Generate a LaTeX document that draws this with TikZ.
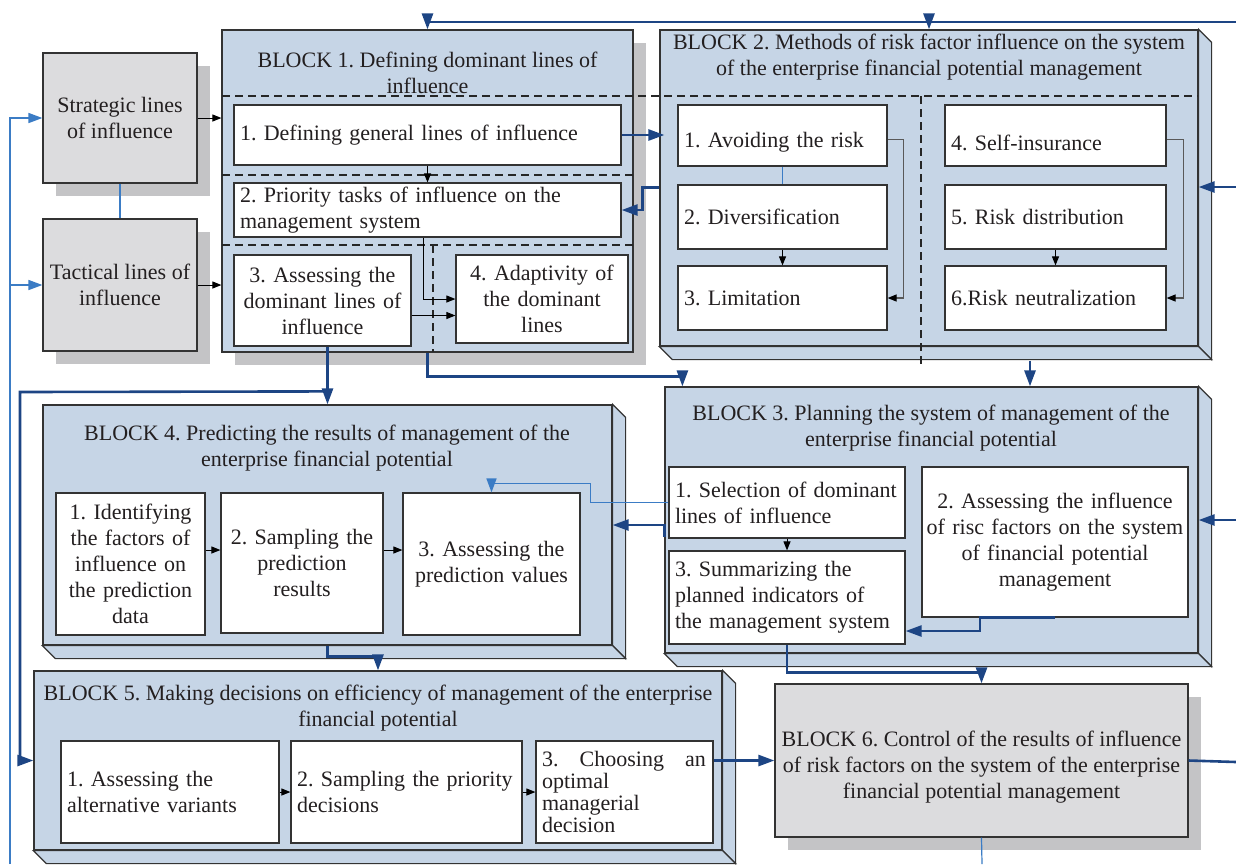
\documentclass[tikz,border=0pt]{standalone}
\usepackage{fontspec}
\setmainfont{Liberation Serif}
\usetikzlibrary{arrows.meta,calc,shadows}

\definecolor{blkblue}{HTML}{C6D5E6}
\definecolor{boxgray}{HTML}{DCDCDE}
\definecolor{shadowgray}{HTML}{C4C4C6}
\definecolor{navy}{HTML}{1D4584}
\definecolor{lightblue}{HTML}{3B7CC5}
\definecolor{boxline}{HTML}{333333}
\definecolor{txt}{HTML}{231F20}

\hyphenpenalty=10000
\exhyphenpenalty=10000
\newcommand{\blockfont}{\fontsize{11}{13}\selectfont\frenchspacing}
\newcommand{\lowtext}[1]{\raisebox{-3.5pt}[\height][\depth]{#1}}

\tikzset{
	blk/.style={draw=boxline, fill=blkblue, line width=0.6pt, inner sep=0pt},
	face/.style={draw=boxline, fill=blkblue, line width=0.6pt},
	graybox/.style={draw=boxline, fill=boxgray, line width=0.6pt, inner xsep=3pt, font=\blockfont, text=txt, align=center,
		drop shadow={shadow xshift=6.5pt, shadow yshift=-6.5pt, fill=shadowgray, opacity=1}},
	inbox/.style={draw=boxline, fill=white, line width=0.6pt, inner xsep=3pt, inner ysep=0pt, font=\blockfont, text=txt},
	ttl/.style={font=\blockfont, align=center, text=txt, inner sep=0pt},
	sepline/.style={draw=black!85, line width=0.8pt, dash pattern=on 4pt off 2.5pt},
	darrow/.style={draw=navy, line width=1.3pt, -{Triangle[length=8pt,width=5.5pt]}},
	dline/.style={draw=navy, line width=1.3pt},
	larrow/.style={draw=lightblue, line width=0.8pt, -{Triangle[length=7pt,width=5pt]}},
	lline/.style={draw=lightblue, line width=0.6pt},
	barrow/.style={draw=black, line width=0.5pt, -{Triangle[length=4.5pt,width=3.5pt]}},
	garrow/.style={draw=black!65, line width=0.6pt, -{Triangle[length=4.5pt,width=3.5pt,black]}}
}

\begin{document}
\begin{tikzpicture}[x=0.5pt, y=-0.5pt]
	\useasboundingbox (0,0) rectangle (1236,864);

	%blocks
	\node[blk, minimum width=205.5pt, minimum height=161pt,
		drop shadow={shadow xshift=6.5pt, shadow yshift=-6.5pt, fill=shadowgray, opacity=1}] (blk1) at (427.5,191) {};
	\node[blk, minimum width=269pt, minimum height=158pt] (blk2) at (929,188) {};
	\node[blk, minimum width=266.5pt, minimum height=133pt] (blk3) at (931.5,520) {};
	\node[blk, minimum width=284.5pt, minimum height=120pt] (blk4) at (327.5,525) {};
	\node[blk, minimum width=344pt, minimum height=89.5pt] (blk5) at (378,760.5) {};
	\foreach \b in {blk2,blk3,blk4,blk5} {
		\filldraw[face] (\b.north east) -- ++(13,13) -- ($(\b.south east)+(13,13)$) -- (\b.south east) -- cycle;
		\filldraw[face] (\b.south west) -- ++(13,13) -- ($(\b.south east)+(13,13)$) -- (\b.south east) -- cycle;
	}
	\node[graybox, minimum width=206.5pt, minimum height=76.5pt] (blk6) at (981.5,760.5)
		{\lowtext{\begin{tabular}{@{}c@{}}BLOCK 6. Control of the results of influence\\of risk factors on the system of the enterprise\\financial potential management\end{tabular}}};

	%titles
	\node[ttl] (t1) at (427.5,73) {BLOCK 1. Defining dominant lines of\\influence};
	\node[ttl] (t2) at (929,57) {BLOCK 2. Methods of risk factor influence on the system\\of the enterprise financial potential management};
	\node[ttl] (t3) at (931,428) {BLOCK 3. Planning the system of management of the\\enterprise financial potential};
	\node[ttl] (t4) at (327,448) {BLOCK 4. Predicting the results of management of the\\enterprise financial potential};
	\node[ttl] (t5) at (378,708) {BLOCK 5. Making decisions on efficiency of management of the enterprise\\financial potential};

	%dashed separators
	\draw[sepline] (222,96) -- (1198,96);
	\draw[sepline] (222,175) -- (633,175);
	\draw[sepline] (222,245) -- (633,245);
	\draw[sepline] (433,245) -- (433,352);
	\draw[sepline] (921,96) -- (921,367);

	%lines of influence
	\node[graybox, minimum width=77pt, minimum height=65pt] (strat) at (120,118) {Strategic lines\\of influence};
	\node[graybox, minimum width=77pt, minimum height=66pt] (tact) at (120,285) {Tactical lines of\\influence};

	%block 1
	\node[inbox, text width=187.5pt, minimum height=30pt, align=left] (d1) at (427.5,135) {1. Defining general lines of influence};
	\node[inbox, text width=187.5pt, minimum height=27pt, align=left] (d2) at (427.5,210) {2. Priority tasks of influence on the\\management system};
	\node[inbox, text width=82.5pt, minimum height=45.5pt, align=center] (d3) at (322.5,300.5) {3. Assessing the\\dominant lines of\\influence};
	\node[inbox, text width=80pt, minimum height=44pt, align=center] (d4) at (542,299) {4. Adaptivity of\\the dominant\\lines};

	%block 2
	\node[inbox, text width=98.5pt, minimum height=30.5pt, align=left] (e1) at (782.5,135.5) {\lowtext{1. Avoiding the risk}};
	\node[inbox, text width=98.5pt, minimum height=32pt, align=left] (e2) at (782.5,217) {2. Diversification};
	\node[inbox, text width=98.5pt, minimum height=32pt, align=left] (e3) at (782.5,298) {3. Limitation};
	\node[inbox, text width=104.5pt, minimum height=30.5pt, align=left] (e4) at (1055.5,135.5) {\lowtext{4. Self-insurance}};
	\node[inbox, text width=104.5pt, minimum height=32pt, align=left] (e5) at (1055.5,217) {5. Risk distribution};
	\node[inbox, text width=104.5pt, minimum height=32pt, align=left] (e6) at (1055.5,298) {6.Risk neutralization};

	%block 3
	\node[inbox, text width=112pt, minimum height=35.5pt, align=left] (g1) at (787,502.5) {1. Selection of dominant\\lines of influence};
	\node[inbox, inner xsep=1pt, text width=131pt, minimum height=75pt, align=center] (g2) at (1055,542) {2. Assessing the influence\\of risc factors on the system\\of financial potential\\management};
	\node[inbox, text width=112pt, minimum height=46.5pt, align=left] (g3) at (787,597.5) {3. Summarizing the\\planned indicators of\\the management system};

	%block 4
	\node[inbox, text width=68.5pt, minimum height=71pt, align=center] (h1) at (130.5,564) {1. Identifying\\the factors of\\influence on\\the prediction\\data};
	\node[inbox, text width=75pt, minimum height=70pt, align=center] (h2) at (302,563) {2. Sampling the\\prediction\\results};
	\node[inbox, text width=82.5pt, minimum height=71pt, align=center] (h3) at (491.5,564) {3. Assessing the\\prediction values};

	%block 5
	\node[inbox, text width=103pt, minimum height=51pt, align=left] (k1) at (170,792) {1. Assessing the\\alternative variants};
	\node[inbox, text width=109.5pt, minimum height=51pt, align=left] (k2) at (406.5,792) {2. Sampling the priority\\decisions};
	\node[inbox, text width=82.5pt, minimum height=51pt, align=left, font=\fontsize{11}{11}\selectfont\frenchspacing] (k3) at (624.5,792)
		{\hbox to 82pt{3.\hfill Choosing\hfill an}\\optimal\\managerial\\decision};

	%free ends
	\coordinate (ttop) at (1236,22);
	\coordinate (rin2) at (1236,187);
	\coordinate (rin3) at (1236,520);
	\coordinate (rout) at (1236,762);
	\coordinate (bout) at (982,864);
	\coordinate (lbot) at (10,864);
	\coordinate (lft) at (20,392);

	%connectors inside blocks
	\draw[barrow] (strat.east) -- (strat.east -| blk1.west);
	\draw[barrow] (tact.east) -- (tact.east -| blk1.west);
	\draw[lline] (strat.south) -- (tact.north);
	\draw[barrow] (d1.south) -- (d2.north);
	\draw[barrow] ($(d2.south)+(-4,0)$) |- (d4.west);
	\draw[barrow] ($(d3.east)+(0,15)$) -- ($(d3.east -| d4.west)+(0,15)$);
	\draw[lline] (e1.south) -- (e2.north);
	\draw[barrow] (e2.south) -- (e3.north);
	\draw[barrow] (e5.south) -- (e6.north);
	\draw[garrow] ($(e1.east)+(0,4)$) -- ++(16,0) |- (e3.east);
	\draw[garrow] ($(e4.east)+(0,4)$) -- ++(17,0) |- (e6.east);
	\draw[barrow] (g1.south) -- (g3.north);
	\draw[barrow] ($(h1.east)+(0,-14)$) -- ($(h1.east -| h2.west)+(0,-14)$);
	\draw[barrow] ($(h2.east)+(0,-13)$) -- ($(h2.east -| h3.west)+(0,-13)$);
	\draw[barrow] (k1.east) -- (k2.west);
	\draw[barrow] (k2.east) -- (k3.west);

	%connectors between blocks
	\draw[larrow] (lbot) |- (strat.west);
	\draw[larrow] (lbot |- tact.west) -- (tact.west);
	\draw[darrow] (ttop) -| (blk1.north);
	\draw[darrow] (ttop -| blk2.north) -- (blk2.north);
	\draw[darrow] (d1.east) -- ($(d1.east -| blk2.west)+(5,0)$);
	\draw[darrow] ($(d2.north -| blk2.west)+(0,5)$) -- ++(-17,0) |- (d2.east);
	\draw[darrow] (blk1.south) -- ++(0,24) -| ($(blk3.north west)+(18,0)$);
	\draw[darrow] (d3.south -| blk4.north) -- (blk4.north);
	\draw[darrow] ($(blk4.north)+(0,-13)$) -- (lft) |- (blk5.west);
	\draw[darrow] (rin2) -- (rin2 -| blk2.east);
	\draw[darrow] ($(blk2.south)+(101,14)$) -- ($(blk2.south |- blk3.north)+(101,0)$);
	\draw[darrow] (rin3) -- (rin3 -| blk3.east);
	\draw[darrow] ($(blk3.west)+(0,17)$) -- ($(blk3.west)+(0,5)$) -- ($(blk3.west -| blk4.east)+(0,5)$);
	\draw[larrow] (g1.west) -- ++(-78,0) -- ++(0,-19) -| (h3.north);
	\draw[darrow] (g2.south) -- ++(-75,0) |- ($(g3.east)+(0,33.5)$);
	\draw[darrow] (g3.south) -- ++(0,28) -| (blk6.north);
	\draw[darrow] (blk4.south) -- ++(0,11) -| (blk5.north);
	\draw[darrow] (k3.east |- blk6.west) -- (blk6.west);
	\draw[dline] (blk6.east) -- (rout);
	\draw[lline] (blk6.south) -- (bout);
\end{tikzpicture}
\end{document}
